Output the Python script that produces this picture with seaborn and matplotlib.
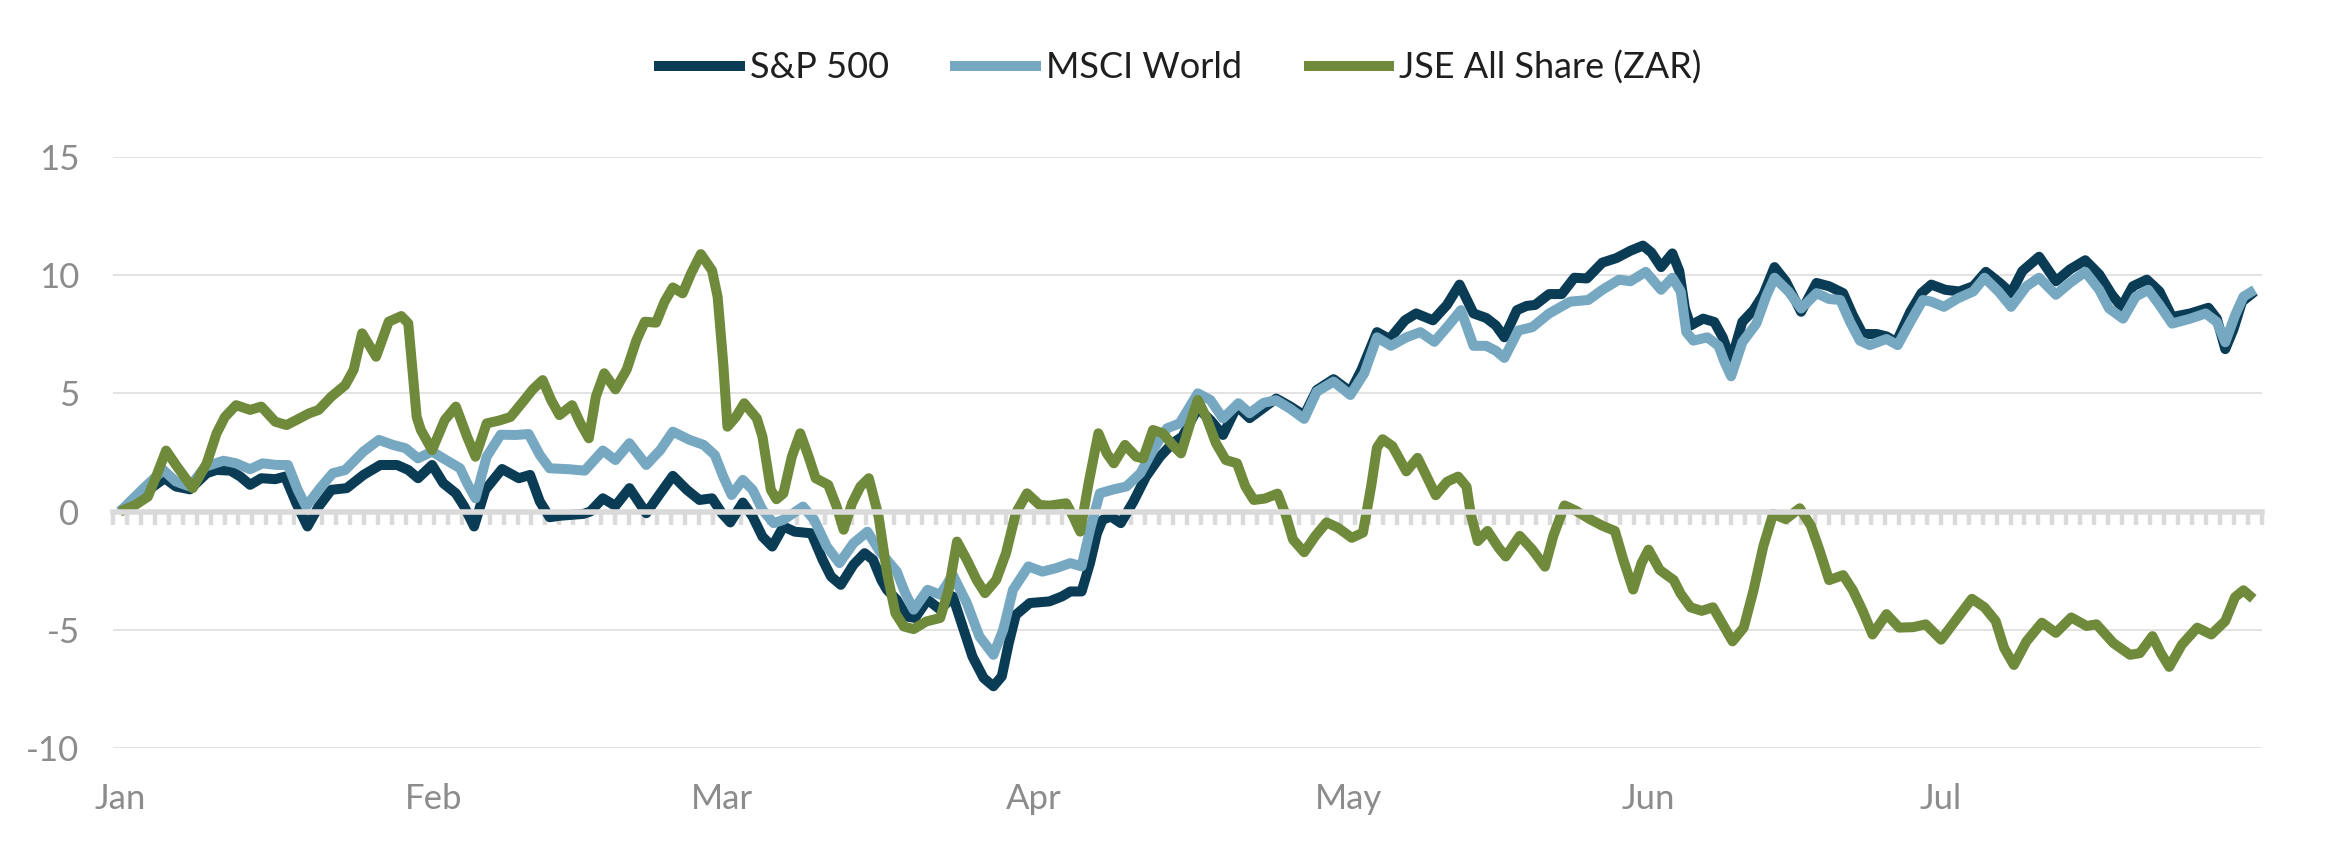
import numpy as np
import pandas as pd
import seaborn as sns
import matplotlib.pyplot as plt

# trading-day index (0 = first day of Jan) and cumulative return in %
sp_day = [0, 1.7, 3.2, 4.0, 5.0, 6.2, 6.9, 7.9, 8.6, 9.3, 10.1, 11.1, 11.8, 12.6, 13.4, 14.2,
          15.1, 16.2, 17.4, 18.6, 19.8, 20.6, 21.3, 22.3, 23.1, 24.0, 24.6, 25.3, 26.1, 27.3,
          28.5, 29.3, 30.0, 30.7, 31.4, 33.1, 33.6, 34.5, 35.4, 36.4, 37.6, 38.6, 39.5, 40.5,
          41.4, 42.3, 43.0, 43.6, 44.5, 45.2, 45.9, 46.6, 47.4, 48.2, 49.4, 50.2, 50.8, 51.5,
          52.4, 53.2, 53.8, 54.4, 54.8, 55.5, 56.2, 56.8, 57.7, 58.6, 59.5, 60.2, 60.9, 61.7,
          62.4, 63.0, 63.5, 64.0, 65.0, 66.4, 67.3, 67.9, 68.7, 69.3, 69.8, 70.2, 70.8, 71.5,
          72.4, 73.3, 74.3, 75.2, 75.9, 77.0, 77.9, 78.8, 79.8, 80.7, 81.5, 82.6, 83.6, 84.6,
          85.5, 86.7, 87.9, 88.7, 89.8, 90.7, 91.8, 92.6, 93.8, 94.8, 95.7, 96.7, 97.6, 98.3,
          98.9, 99.8, 100.5, 101.1, 102.1, 103.0, 103.9, 104.8, 105.9, 106.9, 107.9, 108.8,
          109.4, 110.1, 110.9, 111.4, 111.8, 112.2, 113.1, 113.9, 114.5, 115.1, 115.9, 116.7,
          117.4, 118.2, 119.0, 120.1, 121.2, 122.1, 123.1, 123.8, 124.5, 125.5, 126.2, 126.9,
          127.9, 128.7, 129.4, 130.4, 131.4, 132.4, 133.3, 134.3, 135.1, 135.9, 137.1, 138.3,
          139.3, 140.4, 141.4, 142.3, 143.0, 143.8, 144.8, 145.7, 146.6, 147.9, 149.2, 149.8,
          150.4, 151.0, 151.6, 152.5]
sp_val = [0.0, 0.77, 1.41, 1.06, 0.94, 1.62, 1.76, 1.73, 1.48, 1.13, 1.41, 1.37, 1.48, 0.35, -0.63, 0.21,
          0.92, 0.99, 1.55, 1.97, 1.97, 1.76, 1.41, 1.97, 1.20, 0.77, 0.21, -0.63, 0.92, 1.80,
          1.41, 1.55, 0.42, -0.24, -0.18, -0.10, 0.0, 0.56, 0.24, 0.99, -0.07, 0.77, 1.51, 0.92,
          0.49, 0.56, -0.07, -0.46, 0.38, -0.21, -1.06, -1.48, -0.63, -0.85, -0.92, -2.04, -2.75, -3.10,
          -2.25, -1.76, -2.04, -2.90, -3.31, -3.73, -4.44, -4.50, -3.73, -4.15, -3.59, -4.86, -6.13, -7.04,
          -7.39, -6.97, -5.56, -4.37, -3.87, -3.80, -3.59, -3.38, -3.38, -2.18, -0.92, -0.35, -0.21, -0.49,
          0.42, 1.48, 2.32, 2.89, 3.17, 4.37, 3.87, 3.24, 4.46, 3.95, 4.30, 4.78, 4.45, 4.07,
          5.14, 5.60, 5.07, 6.00, 7.59, 7.30, 8.09, 8.38, 8.09, 8.74, 9.60, 8.38, 8.19, 7.87,
          7.37, 8.52, 8.70, 8.74, 9.20, 9.20, 9.89, 9.86, 10.53, 10.72, 11.03, 11.25,
          10.96, 10.34, 10.92, 10.17, 8.59, 7.87, 8.16, 8.02, 7.37, 6.37, 8.02, 8.52,
          9.17, 10.34, 9.74, 8.45, 9.67, 9.53, 9.24, 8.30, 7.51, 7.51, 7.41, 7.16,
          8.45, 9.24, 9.60, 9.38, 9.31, 9.53, 10.14, 9.67, 9.24, 10.17, 10.78, 9.74,
          10.24, 10.63, 10.03, 9.17, 8.66, 9.53, 9.81, 9.31, 8.23, 8.38, 8.62, 8.16,
          6.87, 7.73, 8.88, 9.31]

msci_day = [0, 1.7, 3.1, 4.0, 5.0, 6.1, 7.4, 8.3, 9.3, 10.2, 11.2, 12.0, 12.7, 13.3, 14.3, 15.2,
            16.1, 17.4, 18.5, 19.5, 20.4, 21.3, 22.3, 23.3, 24.3, 24.8, 25.4, 26.2, 27.2, 28.3,
            29.2, 30.0, 30.7, 32.1, 33.2, 34.5, 35.4, 36.4, 37.6, 38.6, 39.5, 40.7, 41.7, 42.5,
            43.1, 43.7, 44.5, 45.2, 45.9, 46.7, 47.4, 48.8, 49.6, 50.5, 51.4, 52.4, 53.4, 54.3,
            55.5, 56.1, 56.7, 57.7, 58.6, 59.5, 60.5, 61.4, 62.4, 63.1, 63.8, 64.9, 65.9, 66.9,
            67.9, 68.7, 69.3, 70.0, 71.0, 71.9, 72.9, 73.8, 74.8, 75.7, 77.0, 77.9, 78.8, 79.9,
            80.7, 81.7, 82.6, 83.6, 84.6, 85.5, 86.7, 87.9, 88.9, 89.8, 90.8, 91.9, 92.9, 93.9,
            94.9, 95.8, 96.7, 97.6, 98.3, 98.9, 99.9, 100.9, 102.1, 103.6, 104.9, 105.9, 107.1,
            107.9, 109.0, 110.1, 110.9, 111.5, 111.9, 112.4, 113.4, 114.2, 114.6, 115.1, 115.9,
            116.9, 117.6, 118.2, 119.2, 120.1, 121.2, 122.1, 122.9, 123.6, 124.3, 125.0, 126.2,
            127.0, 127.9, 128.8, 129.4, 130.3, 131.3, 132.4, 133.2, 134.2, 135.1, 136.2, 137.1,
            138.3, 139.3, 140.4, 141.4, 142.1, 143.1, 144.0, 144.9, 145.7, 146.6, 147.9, 149.0,
            149.8, 150.4, 151.1, 151.7, 152.5]
msci_val = [0.0, 0.99, 1.76, 1.27, 1.06, 1.90, 2.15, 2.04, 1.79, 2.04, 1.97, 1.97, 0.92, 0.21, 0.99, 1.62,
            1.76, 2.54, 3.03, 2.82, 2.68, 2.25, 2.54, 2.18, 1.83, 1.20, 0.56, 2.32, 3.25, 3.24,
            3.28, 2.39, 1.83, 1.79, 1.73, 2.58, 2.18, 2.89, 1.97, 2.60, 3.38, 3.03, 2.82, 2.39,
            1.48, 0.70, 1.34, 0.92, 0.07, -0.49, -0.35, 0.21, -0.35, -1.48, -2.18, -1.34, -0.85, -1.70,
            -2.54, -3.45, -4.15, -3.31, -3.52, -2.68, -3.87, -5.28, -6.06, -5.00, -3.31, -2.32, -2.54, -2.39,
            -2.18, -2.32, -0.77, 0.77, 0.94, 1.06, 1.62, 2.60, 3.52, 3.73, 5.00, 4.72, 3.94, 4.58,
            4.16, 4.60, 4.71, 4.35, 3.92, 5.07, 5.50, 4.93, 5.86, 7.37, 7.01, 7.37, 7.59, 7.18,
            7.87, 8.52, 7.01, 7.01, 6.80, 6.50, 7.66, 7.80, 8.38, 8.88, 8.95, 9.38, 9.81,
            9.74, 10.14, 9.38, 9.89, 9.31, 7.59, 7.23, 7.37, 7.01, 6.37, 5.72, 7.16,
            7.95, 9.10, 9.89, 9.31, 8.59, 9.24, 8.99, 8.95, 8.02, 7.23, 7.04, 7.30,
            7.04, 8.02, 8.95, 8.88, 8.66, 9.02, 9.31, 9.89, 9.31, 8.66, 9.53, 9.89,
            9.17, 9.67, 10.14, 9.38, 8.59, 8.16, 9.09, 9.38, 8.74, 7.95, 8.16, 8.38,
            8.02, 7.16, 8.30, 9.09, 9.38]

jse_day = [0, 1.1, 2.0, 2.6, 3.3, 4.0, 5.2, 6.2, 6.9, 7.5, 8.3, 9.3, 10.1, 11.1, 11.9, 12.6,
           13.5, 14.2, 15.1, 16.1, 16.7, 17.3, 18.3, 19.2, 20.1, 20.6, 21.2, 21.5, 22.3, 23.2,
           24.0, 24.8, 25.4, 26.2, 27.1, 27.9, 28.8, 29.5, 30.2, 30.8, 31.4, 32.3, 32.9, 33.5,
           34.0, 34.6, 35.4, 36.2, 36.9, 37.5, 38.3, 38.9, 39.5, 40.2, 40.8, 41.5, 42.3, 42.7,
           43.1, 43.4, 44.0, 44.6, 45.5, 45.9, 46.5, 46.9, 47.4, 48.0, 48.6, 49.2, 49.7, 50.6,
           51.2, 51.7, 52.3, 52.9, 53.5, 54.2, 54.8, 55.4, 56.0, 56.7, 57.6, 58.6, 59.2, 59.8,
           60.5, 61.2, 61.8, 62.6, 63.3, 64.0, 64.8, 65.7, 66.4, 67.6, 68.1, 68.6, 69.2, 69.9,
           70.5, 71.0, 71.8, 72.6, 73.1, 73.8, 74.5, 75.2, 75.8, 76.6, 77.0, 77.6, 78.3, 79.0,
           79.8, 80.4, 81.0, 81.8, 82.7, 83.3, 83.8, 84.6, 85.4, 86.2, 87.0, 88.0, 88.8, 89.4,
           89.8, 90.2, 90.9, 91.9, 92.7, 93.3, 94.0, 94.8, 95.6, 96.2, 96.5, 97.0, 97.7, 98.5,
           99.0, 100.0, 100.9, 101.8, 102.4, 103.2, 104.0, 105.0, 105.9, 106.8, 107.4, 108.1,
           108.7, 109.2, 110.0, 111.0, 111.5, 112.2, 113.0, 113.8, 114.5, 115.2, 116.0, 116.7,
           117.4, 118.1, 119.0, 120.0, 120.8, 121.4, 122.1, 123.1, 123.8, 124.5, 125.2, 126.2,
           127.1, 128.1, 129.0, 130.1, 131.1, 132.3, 133.2, 134.0, 134.6, 135.3, 136.2, 137.3,
           138.3, 139.4, 140.5, 141.2, 142.4, 143.6, 144.3, 145.2, 145.8, 146.4, 147.3, 148.4,
           149.4, 150.4, 151.1, 151.7, 152.4]
jse_val = [0.0, 0.28, 0.63, 1.50, 2.58, 1.97, 0.99, 2.04, 3.30, 4.00, 4.50, 4.30, 4.44, 3.80, 3.66, 3.87,
           4.15, 4.30, 4.86, 5.35, 6.00, 7.54, 6.55, 8.03, 8.27, 7.96, 4.00, 3.45, 2.60, 3.87,
           4.44, 3.17, 2.32, 3.73, 3.85, 4.00, 4.65, 5.17, 5.56, 4.72, 4.08, 4.50, 3.73, 3.10,
           4.86, 5.85, 5.17, 6.00, 7.25, 8.03, 7.99, 8.87, 9.48, 9.23, 10.07, 10.89, 10.20, 9.08,
           6.27, 3.59, 4.00, 4.58, 3.94, 3.17, 0.92, 0.52, 0.77, 2.32, 3.31, 2.32, 1.41, 1.13,
           0.21, -0.77, 0.35, 1.06, 1.41, -0.21, -2.60, -4.30, -4.86, -4.97, -4.65, -4.50, -3.31, -1.27,
           -2.04, -2.89, -3.45, -2.89, -1.76, -0.07, 0.77, 0.28, 0.25, 0.35, -0.21, -0.85, 1.20, 3.31,
           2.46, 2.04, 2.82, 2.32, 2.25, 3.45, 3.31, 2.82, 2.46, 4.00, 4.72, 4.00, 2.89, 2.18,
           2.04, 1.06, 0.49, 0.55, 0.76, -0.17, -1.18, -1.72, -1.03, -0.46, -0.68, -1.11, -0.89, 1.12,
           2.70, 3.06, 2.77, 1.70, 2.27, 1.55, 0.69, 1.26, 1.48, 1.05, -0.10, -1.25, -0.82, -1.54,
           -1.90, -1.03, -1.61, -2.33, -1.03, 0.26, 0.04, -0.32, -0.60, -0.82, -2.04, -3.30,
           -2.18, -1.61, -2.47, -2.90, -3.48, -4.05, -4.20, -4.05, -4.77, -5.49, -4.91, -3.33,
           -1.47, -0.10, -0.32, 0.14, -0.60, -1.61, -2.90, -2.69, -3.33, -4.20, -5.20, -4.34,
           -4.91, -4.89, -4.77, -5.42, -4.63, -3.69, -4.05, -4.63, -5.77, -6.49, -5.49, -4.70,
           -5.13, -4.48, -4.84, -4.77, -5.56, -6.06, -5.99, -5.27, -5.99, -6.57, -5.63, -4.91,
           -5.20, -4.63, -3.62, -3.33, -3.69]

series_names = ["S&P 500", "MSCI World", "JSE All Share (ZAR)"]
colors = ["#0b3c55", "#77a8c1", "#6e8a3a"]

month_labels = ["Jan", "Feb", "Mar", "Apr", "May", "Jun", "Jul"]
month_days = [0, 22.4, 43, 65.3, 87.8, 109.2, 130.1]
n_days = 154

df = pd.concat([
    pd.DataFrame({"day": sp_day, "value": sp_val, "series": series_names[0]}),
    pd.DataFrame({"day": msci_day, "value": msci_val, "series": series_names[1]}),
    pd.DataFrame({"day": jse_day, "value": jse_val, "series": series_names[2]}),
])

sns.set_theme(style="white")
plt.rcParams["font.family"] = ["Lato", "DejaVu Sans"]
plt.rcParams["axes.unicode_minus"] = False

fig = plt.figure(figsize=(11.64, 4.26), dpi=200)
ax = fig.add_axes([0.0485, 0.1221, 0.923, 0.6937])

sns.lineplot(data=df, x="day", y="value", hue="series", hue_order=series_names,
             palette=colors, estimator=None, sort=True, linewidth=3.6,
             solid_joinstyle="round", solid_capstyle="butt", ax=ax)

xmin, xmax = -0.5, 153.0
ax.set_xlim(xmin, xmax)
ax.set_ylim(-10, 15)
ax.set_yticks(range(-10, 16, 5))
ax.set_xlabel("")
ax.set_ylabel("")

# light grid and the grey zero axis with a tick per trading day
ax.yaxis.grid(True, color="#e3e3e3", linewidth=0.7)
ax.set_axisbelow(True)
for s in ["left", "right", "top"]:
    ax.spines[s].set_visible(False)
ax.spines["bottom"].set_position(("data", 0))
ax.spines["bottom"].set_color("#dadada")
ax.spines["bottom"].set_linewidth(2.0)
ax.set_xticks(np.linspace(xmin, xmax, n_days + 1))
ax.tick_params(axis="x", which="major", bottom=True, direction="out", length=4.5, width=1.6,
               color="#dadada", labelbottom=False)
ax.tick_params(axis="y", length=0, pad=12, labelsize=12.5, labelcolor="#8c8c8c")

# month labels sit at the bottom of the plot
sec = ax.secondary_xaxis("bottom")
sec.set_xticks(month_days, month_labels)
sec.tick_params(length=0, pad=12.5, labelsize=12.5, labelcolor="#8c8c8c")
sec.spines["bottom"].set_visible(False)

handles, labels = ax.get_legend_handles_labels()
ax.get_legend().remove()
fig.legend(handles, labels, loc="center", bbox_to_anchor=(0.506, 0.921), ncol=3,
           frameon=False, fontsize=13, handlelength=2.5, handletextpad=0.15,
           columnspacing=1.7, labelcolor="#1f1f1f")

fig.savefig("out.png", dpi=200)
